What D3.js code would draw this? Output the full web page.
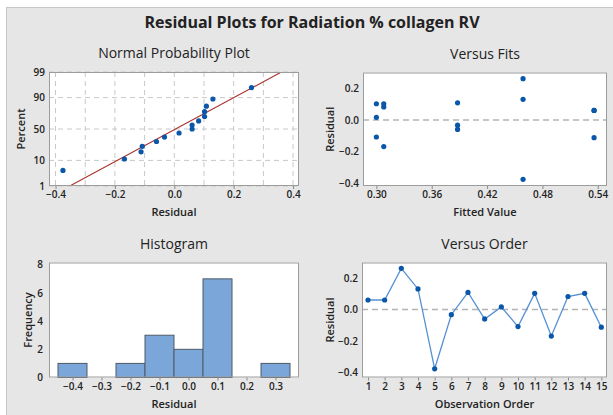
<!DOCTYPE html>
<html>
<head>
<meta charset="utf-8">
<script src="https://cdn.jsdelivr.net/npm/d3@7"></script>
<style>
  body { margin: 0; background: #ffffff; }
  text { font-family: "Open Sans", "Noto Sans", sans-serif; fill: #222; }
</style>
</head>
<body>
<svg id="chart" width="613" height="415"></svg>
<script>
// ---- data -------------------------------------------------------------
const observationOrder = d3.range(1, 16);
const residuals = [0.060, 0.060, 0.260, 0.130, -0.375, -0.033, 0.108, -0.060,
                   0.016, -0.108, 0.102, -0.168, 0.082, 0.102, -0.112];
const fittedValues = [0.536, 0.536, 0.459, 0.459, 0.459, 0.388, 0.388, 0.388,
                      0.300, 0.300, 0.300, 0.308, 0.308, 0.308, 0.536];
const histCenters = [-0.4, -0.3, -0.2, -0.1, 0.0, 0.1, 0.2, 0.3];
const histCounts = [1, 0, 1, 3, 2, 7, 0, 1];

const percentTicks = [1, 10, 50, 90, 99];
const normalXTicks = [-0.4, -0.2, 0.0, 0.2, 0.4];
const normalXGrid = [-0.4, -0.3, -0.2, -0.1, 0.0, 0.1, 0.2, 0.3, 0.4];
const residualTicks = [0.2, 0.0, -0.2, -0.4];
const fitTicks = [0.30, 0.36, 0.42, 0.48, 0.54];
const freqTicks = [0, 2, 4, 6, 8];
const orderTicks = d3.range(1, 16);

// ---- helpers ----------------------------------------------------------
// inverse standard normal CDF (Acklam's rational approximation)
function probit(p) {
  const a = [-3.969683028665376e+01, 2.209460984245205e+02, -2.759285104469687e+02,
             1.383577518672690e+02, -3.066479806614716e+01, 2.506628277459239e+00];
  const b = [-5.447609879822406e+01, 1.615858368580409e+02, -1.556989798598866e+02,
             6.680131188771972e+01, -1.328068155288572e+01];
  const c = [-7.784894002430293e-03, -3.223964580411365e-01, -2.400758277161838e+00,
             -2.549671010173971e+00, 4.374664141464968e+00, 2.938163982698783e+00];
  const d = [7.784695709041462e-03, 3.224671290700398e-01, 2.445134137142996e+00,
             3.754408661907416e+00];
  const pl = 0.02425;
  let q, r;
  if (p < pl) {
    q = Math.sqrt(-2 * Math.log(p));
    return (((((c[0]*q+c[1])*q+c[2])*q+c[3])*q+c[4])*q+c[5]) / ((((d[0]*q+d[1])*q+d[2])*q+d[3])*q+1);
  }
  if (p <= 1 - pl) {
    q = p - 0.5; r = q * q;
    return (((((a[0]*r+a[1])*r+a[2])*r+a[3])*r+a[4])*r+a[5])*q / (((((b[0]*r+b[1])*r+b[2])*r+b[3])*r+b[4])*r+1);
  }
  q = Math.sqrt(-2 * Math.log(1 - p));
  return -(((((c[0]*q+c[1])*q+c[2])*q+c[3])*q+c[4])*q+c[5]) / ((((d[0]*q+d[1])*q+d[2])*q+d[3])*q+1);
}

const svg = d3.select("#chart");
const C = {
  bg: "#e6e6e6", frame: "#c6c6c6", plotBorder: "#9c9c9c", grid: "#c8c8c8",
  point: "#0a56a8", line: "#5591d2", fit: "#a8302c", ref: "#b4b4b4",
  bar: "#7ba6d9", barStroke: "#4f5a66", tickText: "#2a2a2a"
};

// outer canvas
svg.append("rect").attr("x", 6.5).attr("y", 7.5).attr("width", 620).attr("height", 420)
  .attr("fill", C.bg).attr("stroke", C.frame);

svg.append("text").attr("x", 312).attr("y", 28).attr("text-anchor", "middle")
  .style("font-size", "16px").style("font-weight", 700)
  .text("Residual Plots for Radiation % collagen RV");

// draws the frame of one panel and returns its group
function panel(box, title, xTitle, yTitle, id) {
  const g = svg.append("g");
  g.append("rect").attr("x", box.x0).attr("y", box.y0)
    .attr("width", box.x1 - box.x0).attr("height", box.y1 - box.y0)
    .attr("fill", "#ffffff");
  g.append("clipPath").attr("id", id).append("rect")
    .attr("x", box.x0).attr("y", box.y0)
    .attr("width", box.x1 - box.x0).attr("height", box.y1 - box.y0);
  const cx = (box.x0 + box.x1) / 2;
  g.append("text").attr("x", cx).attr("y", box.y0 - 14).attr("text-anchor", "middle")
    .style("font-size", "14px").text(title);
  g.append("text").attr("x", cx).attr("y", box.y1 + 30).attr("text-anchor", "middle")
    .style("font-size", "11px").style("font-weight", 600).text(xTitle);
  g.append("text")
    .attr("transform", `translate(${box.yTitleX},${(box.y0 + box.y1) / 2}) rotate(-90)`)
    .attr("text-anchor", "middle").attr("dy", "0.35em")
    .style("font-size", "11px").style("font-weight", 600).text(yTitle);
  return g;
}

function styleAxis(sel) {
  sel.select(".domain").remove();
  sel.selectAll(".tick line").attr("stroke", "#8a8a8a");
  sel.selectAll(".tick text").attr("fill", C.tickText)
    .style("font-size", "10px").style("font-weight", 600)
    .style("font-family", "\"Open Sans\", \"Noto Sans\", sans-serif");
}

function border(g, box) {
  g.append("rect").attr("x", box.x0 + 0.5).attr("y", box.y0 + 0.5)
    .attr("width", box.x1 - box.x0 - 1).attr("height", box.y1 - box.y0 - 1)
    .attr("fill", "none").attr("stroke", C.plotBorder);
}

// ---- Normal probability plot -------------------------------------------
{
  const box = { x0: 49, x1: 299, y0: 72, y1: 186, yTitleX: 21 };
  const g = panel(box, "Normal Probability Plot", "Residual", "Percent", "clipNorm");
  const x = d3.scaleLinear().domain([-0.422, 0.42]).range([box.x0, box.x1]);
  const zTop = probit(0.99);
  const y = d3.scaleLinear().domain([-zTop, zTop]).range([box.y1, box.y0]);
  const yP = p => y(probit(p / 100));

  g.selectAll("line.vgrid").data(normalXGrid).join("line").attr("class", "vgrid")
    .attr("x1", d => x(d)).attr("x2", d => x(d))
    .attr("y1", box.y0).attr("y2", box.y1)
    .attr("stroke", C.grid).attr("stroke-dasharray", "5,4");
  g.selectAll("line.hgrid").data(percentTicks).join("line").attr("class", "hgrid")
    .attr("x1", box.x0).attr("x2", box.x1)
    .attr("y1", d => yP(d)).attr("y2", d => yP(d))
    .attr("stroke", C.grid).attr("stroke-dasharray", "5,4");

  // fitted normal line from the residuals' mean and standard deviation
  const mu = d3.mean(residuals), sd = d3.deviation(residuals);
  const zs = [-3, 3];
  g.append("line").attr("clip-path", "url(#clipNorm)")
    .attr("x1", x(mu + sd * zs[0])).attr("y1", y(zs[0]))
    .attr("x2", x(mu + sd * zs[1])).attr("y2", y(zs[1]))
    .attr("stroke", C.fit).attr("stroke-width", 1.1);

  // median ranks (i - 0.3) / (n + 0.4)
  const sorted = residuals.slice().sort(d3.ascending);
  const n = sorted.length;
  g.selectAll("circle").data(sorted).join("circle")
    .attr("cx", d => x(d)).attr("cy", (d, i) => y(probit((i + 1 - 0.3) / (n + 0.4))))
    .attr("r", 2.6).attr("fill", C.point);

  border(g, box);
  g.append("g").attr("transform", `translate(0,${box.y1})`)
    .call(d3.axisBottom(x).tickValues(normalXTicks).tickFormat(d3.format(".1f")).tickSize(3).tickPadding(2))
    .call(styleAxis);
  g.append("g").selectAll("text").data(percentTicks).join("text")
    .attr("x", box.x0 - 4).attr("y", d => yP(d)).attr("dy", "0.35em")
    .attr("text-anchor", "end").attr("fill", C.tickText)
    .style("font-size", "10px").style("font-weight", 600).text(d => d);
}

// ---- Versus fits --------------------------------------------------------
{
  const box = { x0: 363, x1: 607, y0: 72.5, y1: 186, yTitleX: 330 };
  const g = panel(box, "Versus Fits", "Fitted Value", "Residual", "clipFits");
  const x = d3.scaleLinear().domain([0.2855, 0.550]).range([box.x0, box.x1]);
  const y = d3.scaleLinear().domain([-0.417, 0.299]).range([box.y1, box.y0]);
  g.append("line").attr("x1", box.x0).attr("x2", box.x1).attr("y1", y(0)).attr("y2", y(0))
    .attr("stroke", C.ref).attr("stroke-width", 1.5).attr("stroke-dasharray", "6,4");
  g.selectAll("circle").data(residuals).join("circle")
    .attr("cx", (d, i) => x(fittedValues[i])).attr("cy", d => y(d))
    .attr("r", 2.6).attr("fill", C.point);
  border(g, box);
  g.append("g").attr("transform", `translate(0,${box.y1})`)
    .call(d3.axisBottom(x).tickValues(fitTicks).tickFormat(d3.format(".2f")).tickSize(3).tickPadding(2))
    .call(styleAxis);
  g.append("g").attr("transform", `translate(${box.x0},0)`)
    .call(d3.axisLeft(y).tickValues(residualTicks).tickFormat(d3.format(".1f")).tickSize(0).tickPadding(4))
    .call(styleAxis);
}

// ---- Histogram ----------------------------------------------------------
{
  const box = { x0: 49, x1: 299, y0: 262.5, y1: 377.5, yTitleX: 28 };
  const g = panel(box, "Histogram", "Residual", "Frequency", "clipHist");
  const x = d3.scaleLinear().domain([-0.481, 0.381]).range([box.x0, box.x1]);
  const y = d3.scaleLinear().domain([0, 8.16]).range([box.y1, box.y0]);
  const bw = 0.1;
  g.selectAll("rect.bar").data(histCenters).join("rect").attr("class", "bar")
    .attr("x", d => x(d - bw / 2)).attr("width", d => x(d + bw / 2) - x(d - bw / 2))
    .attr("y", (d, i) => y(histCounts[i])).attr("height", (d, i) => y(0) - y(histCounts[i]))
    .attr("fill", C.bar).attr("stroke", C.barStroke).attr("stroke-width", 1);
  border(g, box);
  g.append("g").attr("transform", `translate(0,${box.y1})`)
    .call(d3.axisBottom(x).tickValues(histCenters).tickFormat(d3.format(".1f")).tickSize(3).tickPadding(2))
    .call(styleAxis);
  g.append("g").attr("transform", `translate(${box.x0},0)`)
    .call(d3.axisLeft(y).tickValues(freqTicks).tickSize(0).tickPadding(6))
    .call(styleAxis);
}

// ---- Versus order -------------------------------------------------------
{
  const box = { x0: 362, x1: 607, y0: 262.5, y1: 377.5, yTitleX: 330 };
  const g = panel(box, "Versus Order", "Observation Order", "Residual", "clipOrder");
  const x = d3.scaleLinear().domain([0.64, 15.34]).range([box.x0, box.x1]);
  const y = d3.scaleLinear().domain([-0.43, 0.297]).range([box.y1, box.y0]);
  g.append("line").attr("x1", box.x0).attr("x2", box.x1).attr("y1", y(0)).attr("y2", y(0))
    .attr("stroke", C.ref).attr("stroke-width", 1.5).attr("stroke-dasharray", "6,4");
  const pts = observationOrder.map((o, i) => [o, residuals[i]]);
  g.append("path").datum(pts)
    .attr("d", d3.line().x(d => x(d[0])).y(d => y(d[1])))
    .attr("fill", "none").attr("stroke", C.line).attr("stroke-width", 1.3);
  g.selectAll("circle").data(pts).join("circle")
    .attr("cx", d => x(d[0])).attr("cy", d => y(d[1]))
    .attr("r", 2.6).attr("fill", C.point);
  border(g, box);
  g.append("g").attr("transform", `translate(0,${box.y1})`)
    .call(d3.axisBottom(x).tickValues(orderTicks).tickFormat(d3.format("d")).tickSize(3).tickPadding(2))
    .call(styleAxis);
  g.append("g").attr("transform", `translate(${box.x0},0)`)
    .call(d3.axisLeft(y).tickValues(residualTicks).tickFormat(d3.format(".1f")).tickSize(0).tickPadding(4))
    .call(styleAxis);
}
</script>
</body>
</html>
